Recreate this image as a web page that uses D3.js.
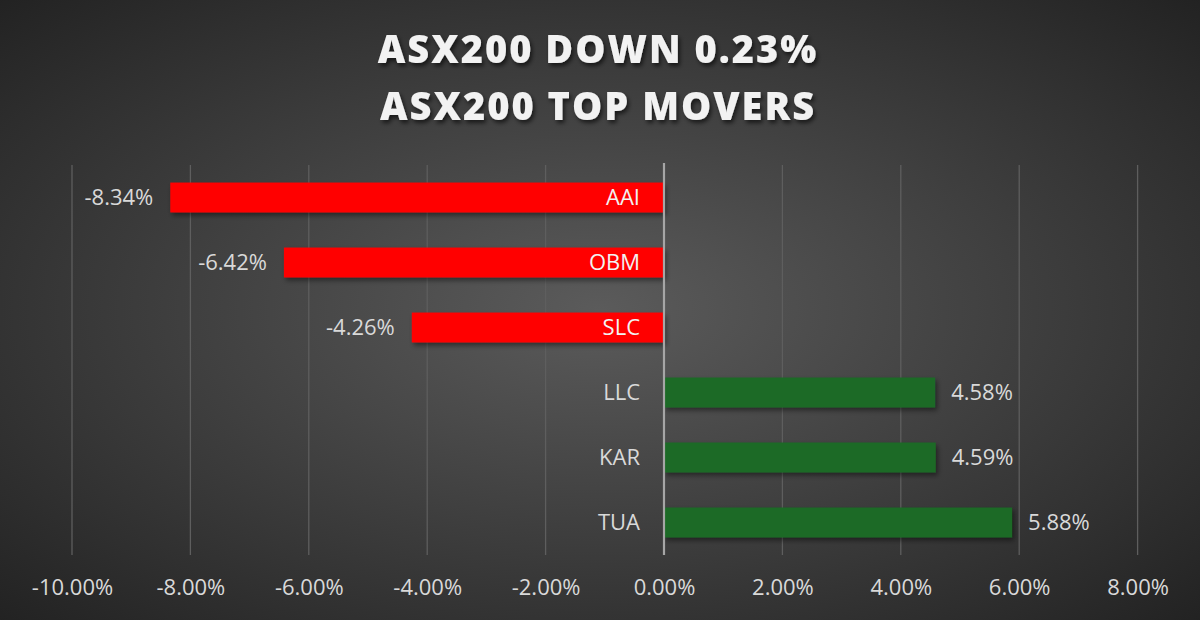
<!DOCTYPE html>
<html>
<head>
<meta charset="utf-8">
<script src="https://cdn.jsdelivr.net/npm/d3@7/dist/d3.min.js"></script>
<style>
html,body{margin:0;padding:0;background:#3a3a3a;}
svg{display:block;}
</style>
</head>
<body>
<svg id="chart" width="1200" height="620"></svg>
<script>
const titleLines = ["ASX200 DOWN 0.23%", "ASX200 TOP MOVERS"];
const categories = ["AAI", "OBM", "SLC", "LLC", "KAR", "TUA"];
const values = [-8.34, -6.42, -4.26, 4.58, 4.59, 5.88];
const tickValues = [-10, -8, -6, -4, -2, 0, 2, 4, 6, 8];

const W = 1200, H = 620;
const svg = d3.select("#chart");
const defs = svg.append("defs");

const rg = defs.append("radialGradient").attr("id","bg")
  .attr("cx","50%").attr("cy","50%").attr("r","75%");
rg.append("stop").attr("offset","0%").attr("stop-color","#5b5b5b");
rg.append("stop").attr("offset","100%").attr("stop-color","#1f1f1f");

const sh = defs.append("filter").attr("id","barShadow")
  .attr("x","-10%").attr("y","-30%").attr("width","130%").attr("height","200%");
sh.append("feDropShadow").attr("dx",2).attr("dy",3).attr("stdDeviation",2.5)
  .attr("flood-color","#000").attr("flood-opacity",0.45);

const ts = defs.append("filter").attr("id","titleShadow")
  .attr("x","-10%").attr("y","-30%").attr("width","120%").attr("height","170%");
ts.append("feDropShadow").attr("dx",2).attr("dy",3).attr("stdDeviation",2)
  .attr("flood-color","#000").attr("flood-opacity",0.6);

svg.append("rect").attr("width",W).attr("height",H).attr("fill","url(#bg)");

const x = d3.scaleLinear().domain([-10, 8]).range([72, 1137.6]);
const y = d3.scaleBand().domain(categories).range([165, 555]).paddingInner(0.54).paddingOuter(0.27);

// gridlines
svg.append("g").selectAll("line").data(tickValues.filter(d => d !== 0)).join("line")
  .attr("x1", d => x(d)).attr("x2", d => x(d))
  .attr("y1", 165).attr("y2", 555)
  .attr("stroke", "#5e5e5e").attr("stroke-width", 1.3);

// bars
const data = categories.map((c,i) => ({c, v: values[i]}));
svg.append("g").selectAll("rect").data(data).join("rect")
  .attr("x", d => x(Math.min(0, d.v)))
  .attr("width", d => Math.abs(x(d.v) - x(0)))
  .attr("y", d => y(d.c))
  .attr("height", y.bandwidth())
  .attr("fill", d => d.v < 0 ? "#ff0000" : "#1a6b25")
  .attr("filter", "url(#barShadow)");

// zero axis
svg.append("line").attr("x1", x(0)).attr("x2", x(0)).attr("y1", 163).attr("y2", 555)
  .attr("stroke", "#a6a6a6").attr("stroke-width", 2.2);

const fontFam = "'Open Sans', sans-serif";
const fs = 22;

// category labels
svg.append("g").selectAll("text").data(data).join("text")
  .attr("x", x(0) - 24)
  .attr("y", d => y(d.c) + y.bandwidth()/2)
  .attr("dy", "0.36em")
  .attr("text-anchor", "end")
  .attr("font-family", fontFam).attr("font-size", fs)
  .attr("fill", d => d.v < 0 ? "#f2f2f2" : "#d9d9d9")
  .text(d => d.c);

// value labels
svg.append("g").selectAll("text").data(data).join("text")
  .attr("x", d => d.v < 0 ? x(d.v) - 17 : x(d.v) + 16)
  .attr("y", d => y(d.c) + y.bandwidth()/2)
  .attr("dy", "0.36em")
  .attr("text-anchor", d => d.v < 0 ? "end" : "start")
  .attr("font-family", fontFam).attr("font-size", fs)
  .attr("fill", "#d9d9d9")
  .text(d => d.v.toFixed(2) + "%");

// x axis tick labels
const axis = d3.axisBottom(x).tickValues(tickValues).tickSize(0)
  .tickFormat(d => d.toFixed(2) + "%");
const gx = svg.append("g").attr("transform", "translate(0,576)").call(axis);
gx.select(".domain").remove();
gx.selectAll("text").attr("font-family", fontFam).attr("font-size", fs)
  .attr("fill", "#d9d9d9").attr("dy", "0.71em");

// title
svg.append("g").attr("filter","url(#titleShadow)").selectAll("text").data(titleLines).join("text")
  .attr("x", 598).attr("y", (d,i) => 63 + i*57)
  .attr("text-anchor","middle")
  .attr("font-family", fontFam).attr("font-weight", 800).attr("font-size", 38)
  .attr("letter-spacing", 2)
  .attr("fill", "#f2f2f2")
  .text(d => d);
</script>
</body>
</html>
